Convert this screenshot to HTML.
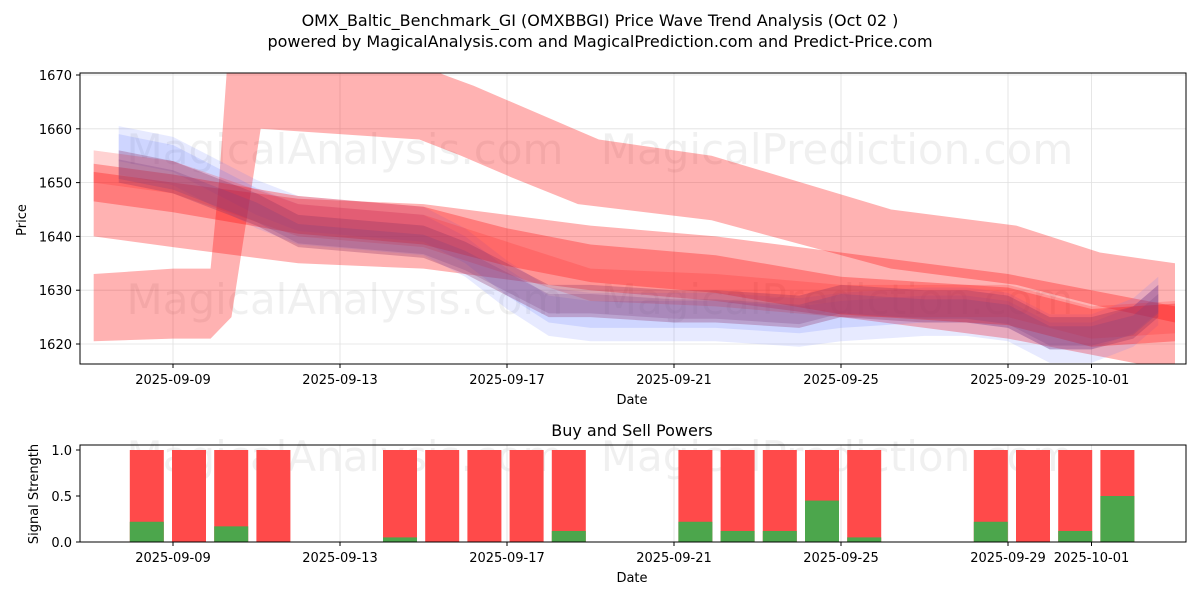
<!DOCTYPE html>
<html><head><meta charset="utf-8"><style>
body{margin:0;background:#fff;font-family:"Liberation Sans","DejaVu Sans",sans-serif}
svg text{font-family:"DejaVu Sans","Liberation Sans",sans-serif}
</style></head><body>
<svg id="c" width="1200" height="600" viewBox="0 0 1200 600" xmlns="http://www.w3.org/2000/svg">
<text x="600" y="26" text-anchor="middle" font-size="16">OMX_Baltic_Benchmark_GI (OMXBBGI) Price Wave Trend Analysis (Oct 02 )</text>
<text x="600" y="47" text-anchor="middle" font-size="16">powered by MagicalAnalysis.com and MagicalPrediction.com and Predict-Price.com</text>
<defs><clipPath id="cp"><rect x="80" y="73" width="1106" height="291"/></clipPath></defs>
<g id="topg"></g>
<g id="botg"></g>
</svg>
<script>
// ---- data ----
const tickDates=["2025-09-09","2025-09-13","2025-09-17","2025-09-21","2025-09-25","2025-09-29","2025-10-01"];
const priceTicks=[1620,1630,1640,1650,1660,1670];
const powerTicks=[0,0.5,1.0];
// band x values are day offsets from 2025-09-09
const bigLoX=[-1.9,0,0.9,1.4,2.1,5.9,6.9,8.1,9.7,12.9,17.2,20.2,22.2,24];
const bigLo=[1620.5,1621,1621,1625,1660,1658,1655,1651,1646,1643,1634,1631,1627,1624];
const bigHiX=[-1.9,0,0.9,1.1,1.3,5.9,6.5,7.2,9.3,10.2,12.9,17.2,20.2,22.2,24];
const bigHi=[1633,1634,1634,1650,1672,1672,1670,1668,1661,1658,1655,1645,1642,1637,1635];
const redX=[-1.9,0,3,6,8,10,13,16,20,22,24];
const redA=[1646,1644,1641,1640,1638,1636,1634,1631,1627,1624,1621];
const redB=[1650,1648,1644,1642,1638,1635,1633,1629,1627,1623,1624];
const redC=[1653,1651,1643,1641,1636,1631,1630,1628,1628,1624,1625];
const mainX=[-1.3,0,1,2,3,6,7,8,9,10,12,13,15,16,18,19,20,21,22,23,23.6];
const mainA=[1653,1651,1648,1645,1641,1639,1636,1632,1628,1628,1627,1627,1626,1628,1627,1627,1626,1622,1622,1624,1628];
const blueA=[1656,1654,1650,1646,1643,1641,1637,1631,1626,1625,1625,1625,1624,1625,1626,1626,1625,1621,1621,1624,1628];
const barDates=["2025-09-08","2025-09-09","2025-09-10","2025-09-11","2025-09-14","2025-09-15","2025-09-16","2025-09-17","2025-09-18","2025-09-21","2025-09-22","2025-09-23","2025-09-24","2025-09-25","2025-09-28","2025-09-29","2025-09-30","2025-10-01"];
const buyPower=[0.22,0,0.17,0,0.05,0,0,0,0.12,0.22,0.12,0.12,0.45,0.05,0.22,0,0.12,0.5];
// ---- axes ----
const NS="http://www.w3.org/2000/svg";
const base=Date.UTC(2025,8,9);
function dayOf(s){const p=s.split("-");return (Date.UTC(+p[0],p[1]-1,+p[2])-base)/864e5;}
function xD(d){return 173+d*41.75;}
function xB(d){return 189+d*42.2;}
function yP(v){return 344-(v-1620)*5.38;}
function yS(v){return 542-v*92;}
function el(t,a,parent){const e=document.createElementNS(NS,t);for(const k in a)e.setAttribute(k,a[k]);parent.appendChild(e);return e;}
const topG=document.getElementById("topg"),botG=document.getElementById("botg");
tickDates.forEach(s=>{const x=xD(dayOf(s));
 const g=el("line",{x1:x,x2:x,y1:73,y2:364,stroke:"#e0e0e0","stroke-width":0.8},topG);
 
 
 el("line",{x1:x,x2:x,y1:364,y2:368,stroke:"#000"},topG);
 const t=el("text",{x:x,y:384,"text-anchor":"middle","font-size":13},topG);t.textContent=s;
 
 
 el("line",{x1:x,x2:x,y1:445,y2:542,stroke:"#e0e0e0","stroke-width":0.8},botG);
 el("line",{x1:x,x2:x,y1:542,y2:546,stroke:"#000"},botG);
 const t2=el("text",{x:x,y:562,"text-anchor":"middle","font-size":13},botG);t2.textContent=s;
 
 
});
priceTicks.forEach(v=>{const y=yP(v);
 el("line",{x1:80,x2:1186,y1:y,y2:y,stroke:"#e0e0e0","stroke-width":0.8},topG);
 el("line",{x1:76,x2:80,y1:y,y2:y,stroke:"#000"},topG);
 const t=el("text",{x:72,y:y+5,"text-anchor":"end","font-size":13},topG);t.textContent=v;
 
 
});
powerTicks.forEach(v=>{const y=yS(v);
 el("line",{x1:76,x2:80,y1:y,y2:y,stroke:"#000"},botG);
 const t=el("text",{x:72,y:y+5,"text-anchor":"end","font-size":13},botG);t.textContent=v.toFixed(1);
 
 
});
[[345,150,"MagicalAnalysis.com"],[837,150,"MagicalPrediction.com"],[345,300,"MagicalAnalysis.com"],[837,300,"MagicalPrediction.com"],[345,457,"MagicalAnalysis.com"],[837,457,"MagicalPrediction.com"]].forEach(w=>{
 const t=el("text",{x:w[0],y:w[1]+14,"text-anchor":"middle","font-size":42,fill:"#000","fill-opacity":0.06},topG);t.textContent=w[2];
 
 
});
const bg=el("g",{"clip-path":"url(#cp)"},topG);
function bandEdges(loX,lo,hiX,hi,fill,op,name){
 let d="M"+loX.map((x,i)=>xD(x)+","+yP(lo[i])).join("L");
 for(let i=hiX.length-1;i>=0;i--)d+="L"+xD(hiX[i])+","+yP(hi[i]);
 const p=el("path",{d:d+"Z",fill:fill,"fill-opacity":op},bg);
 
 
}
function band(xs,c,hw,off,fill,op,name){
 bandEdges(xs,c.map(v=>v+off-hw),xs,c.map(v=>v+off+hw),fill,op,name);
}
bandEdges(bigLoX,bigLo,bigHiX,bigHi,"#ff0000",0.3,"wave-band-upper");
band(redX,redA,6,0,"#ff0000",0.3,"wave-band-lower");
band(mainX,blueA,4.5,0,"#6070ff",0.15,"wave-band-blue");
band(mainX,blueA,2.5,0.5,"#4060ff",0.15,"wave-band-blue-2");
band(redX,redB,3.5,0,"#ff0000",0.3,"wave-band-red");
band(redX,redC,3,0,"#ff2020",0.2,"wave-band-red-2");
band(mainX,mainA,3,0,"#8a3060",0.3,"wave-band-main");
band(mainX,mainA,1.8,-0.5,"#7a4080",0.25,"wave-band-main-2");
el("rect",{x:80,y:73,width:1106,height:291,fill:"none",stroke:"#000","stroke-width":1},topG);
barDates.forEach((s,i)=>{
 const x=xB(dayOf(s))-17,w=34;
 const r=el("rect",{x:x,y:yS(1),width:w,height:yS(0)-yS(1),fill:"#ff4a4a"},botG);
 
 
 const g=el("rect",{x:x,y:yS(buyPower[i]),width:w,height:yS(0)-yS(buyPower[i]),fill:"#4ca64c"},botG);
 
 
});
el("rect",{x:80,y:445,width:1106,height:97,fill:"none",stroke:"#000","stroke-width":1},botG);
function lab(x,y,s,n,rot,fs){const t=el("text",{x:x,y:y,"text-anchor":"middle","font-size":fs||13},topG);if(rot)t.setAttribute("transform","rotate(-90 "+x+" "+y+")");t.textContent=s;
 
 }
lab(632,404,"Date","x-axis-title");
lab(26,220,"Price","y-axis-title",1);
lab(632,582,"Date","x-axis-title-bottom");
lab(38,494,"Signal Strength","y-axis-title-bottom",1);
lab(632,436,"Buy and Sell Powers","subplot-title",0,16);
</script>
</body></html>
